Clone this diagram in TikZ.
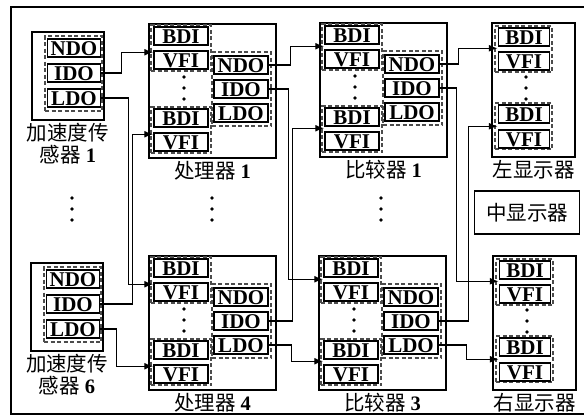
\documentclass[tikz,border=0pt]{standalone}
\usepackage{fontspec}
\setmainfont{Liberation Serif}
\newfontfamily\cjk{Noto Sans CJK SC}
\newcommand{\zh}[1]{{\cjk #1}}
\usetikzlibrary{positioning,arrows.meta}

\begin{document}
\begin{tikzpicture}[x=1pt, y=-1pt, font=\fontsize{21}{22}\selectfont\bfseries,
        unit/.style={draw, line width=1.3pt, inner sep=0pt},
        port/.style={draw, line width=1.5pt, minimum width=54, minimum height=18,
                     inner sep=0pt, text height=14pt, text depth=0pt},
        grp/.style={draw=black!70, line width=1.1pt, dash pattern=on 4pt off 2.5pt,
                    inner sep=0pt},
        lbl/.style={font=\fontsize{20.5}{22}\selectfont\mdseries, align=center,
                    inner sep=1pt},
        link/.style={draw, line width=1.4pt, ->, >={Latex[length=9pt,width=7pt]}}]
      \useasboundingbox (0,0) rectangle (584,418);
      % Cadre
      \draw[line width=2pt] (590,7) -- (11,7) -- (11,414) -- (590,414);
      % Capteurs
      \foreach \n/\x/\y/\k in {s1/32/32/1, s6/31/263/6}{
        \node[unit, minimum width=72, minimum height=88] (\n) at (\x+36,\y+44) {};
        \node[lbl, below=1pt of \n] (\n-lbl) {\zh{加速度传}\\\zh{感器} \textbf{\k}};
        \node[grp, minimum width=57, minimum height=75] (\n-g) at (\x+41.5,\y+41.5) {};
        \node[port, minimum width=53] (\n-ndo) at (\x+42,\y+16) {NDO};
        \node[port, minimum width=53] (\n-ido) at (\x+42,\y+41) {IDO};
        \node[port, minimum width=53] (\n-ldo) at (\x+42,\y+66) {LDO};
      }
      % Processeurs et comparateurs
      \foreach \n/\x/\y/\t in {p1/149/24/{\zh{处理器} \textbf{1}},
                               p4/149/256/{\zh{处理器} \textbf{4}},
                               c1/320/23/{\zh{比较器} \textbf{1}},
                               c3/319/256/{\zh{比较器} \textbf{3}}}{
        \node[unit, minimum width=127, minimum height=134] (\n) at (\x+63.5,\y+67) {};
        \node[lbl, below=1pt of \n] (\n-lbl) {\t};
        \node[grp, minimum width=60, minimum height=46] (\n-g1) at (\x+32,\y+24) {};
        \node[port] (\n-bdi1) at (\x+32,\y+12) {BDI};
        \node[port] (\n-vfi1) at (\x+32,\y+36) {VFI};
        \foreach \d in {53,64,75}
          \fill (\x+35,\y+\d) circle (1.8pt);
        \node[grp, minimum width=60, minimum height=46] (\n-g2) at (\x+32,\y+106) {};
        \node[port] (\n-bdi2) at (\x+32,\y+94) {BDI};
        \node[port] (\n-vfi2) at (\x+32,\y+118) {VFI};
        \node[grp, minimum width=59, minimum height=74] (\n-g3) at (\x+92.5,\y+65) {};
        \node[port] (\n-ndo) at (\x+92,\y+41) {NDO};
        \node[port] (\n-ido) at (\x+92,\y+65) {IDO};
        \node[port] (\n-ldo) at (\x+92,\y+89) {LDO};
      }
      % Afficheurs
      \foreach \n/\x/\y/\t in {ld/492/23/左显示器, rd/493/256/右显示器}{
        \node[unit, minimum width=83, minimum height=134] (\n) at (\x+41.5,\y+67) {};
        \node[lbl, below=1pt of \n] (\n-lbl) {\zh{\t}};
        \node[grp, minimum width=57, minimum height=46] (\n-g1) at (\x+31.5,\y+26) {};
        \node[port, minimum width=51] (\n-bdi1) at (\x+32,\y+14) {BDI};
        \node[port, minimum width=51] (\n-vfi1) at (\x+32,\y+38) {VFI};
        \foreach \d in {54,65,76}
          \fill (\x+34,\y+\d) circle (1.8pt);
        \node[grp, minimum width=57, minimum height=46] (\n-g2) at (\x+31.5,\y+103) {};
        \node[port, minimum width=51] (\n-bdi2) at (\x+32,\y+91) {BDI};
        \node[port, minimum width=51] (\n-vfi2) at (\x+32,\y+116) {VFI};
      }
      \node[unit, lbl, minimum width=105, minimum height=43] (md) at (527,212.5)
            {\zh{中显示器}};
      % Points de suspension
      \foreach \x in {72,212,381}
        \foreach \d in {198,209,220}
          \fill (\x,\d) circle (1.8pt);
      % Liaisons vers les processeurs
      \foreach \a/\d/\b in {s1-ido/20/p1-vfi1, s1-ldo/27/p4-vfi1,
                            s6-ido/32/p1-vfi2, s6-ldo/16/p4-vfi2}
        \draw[link] (\a.east) -- ++(\d,0) |- ([yshift=-2pt]\b.north west);
      % Liaisons vers les comparateurs et afficheurs
      \foreach \a/\d/\b in {p1-ndo/22/c1-vfi1, p1-ido/20/c3-vfi1,
                            p4-ido/24/c1-vfi2, p4-ldo/23/c3-vfi2,
                            c1-ndo/19/ld-vfi1, c1-ido/17/rd-vfi1,
                            c3-ido/30/ld-vfi2, c3-ldo/28/rd-vfi2}
        \draw[link] (\a.east) -- ++(\d,0) |- ([yshift=3pt]\b.north west);
\end{tikzpicture}
\end{document}
